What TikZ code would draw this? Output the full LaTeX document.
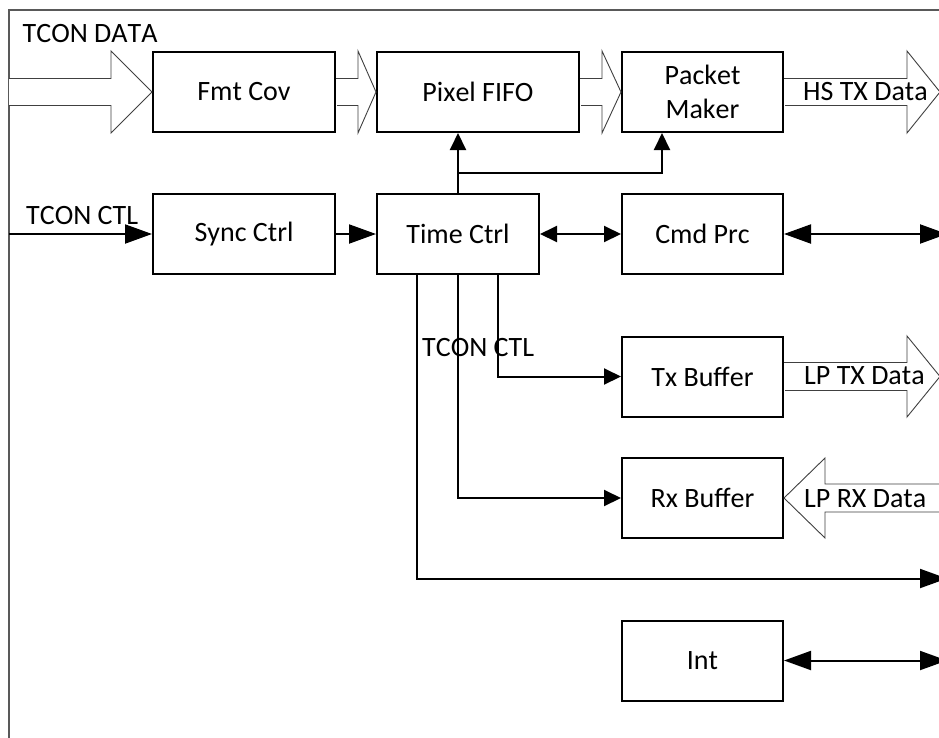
\documentclass[tikz,border=0pt]{standalone}
\usepackage{fontspec}
\setmainfont{Carlito}[Kerning=Off]
\usetikzlibrary{arrows.meta}
\begin{document}
\begin{tikzpicture}[x=1pt,y=-1pt,
  blk/.style={draw, line width=2pt, minimum width=#1, minimum height=80pt, inner sep=0pt, align=center, font=\fontsize{28}{34}\selectfont},
  blk/.default=161pt,
  lbl/.style={inner sep=0pt, anchor=base west, font=\fontsize{28}{34}\selectfont},
  fat/.style={draw=black!75, line width=0.9pt, fill=white, line join=miter},
  frame/.style={draw=black!65, line width=1.5pt},
  con/.style={line width=2pt},
  sm/.tip={Triangle[length=17pt,width=16pt]},
  bg/.tip={Triangle[length=27pt,width=19pt]}
]
\useasboundingbox (0,0) rectangle (939,737);
\clip (0,0) rectangle (939,737);
\fill[white] (0,0) rectangle (939,737);

% frame
\draw[frame] (939,10) -- (9,10) -- (9,740);

% blocks
\node[blk=182pt] (fmt)  at (244,92)    {Fmt Cov};
\node[blk=202pt] (fifo) at (478,92)    {Pixel FIFO};
\node[blk]       (pkt)  at (702.5,92)  {Packet\\Maker};
\node[blk=182pt] (sync) at (244,234)   {Sync Ctrl};
\node[blk=162pt] (time) at (458,234)   {Time Ctrl};
\node[blk]       (cmd)  at (702.5,234) {Cmd Prc};
\node[blk]       (tx)   at (702.5,376.5) {Tx Buffer};
\node[blk]       (rx)   at (702.5,498) {Rx Buffer};
\node[blk]       (int)  at (702.5,660.5) {Int};

% fat data arrows
\draw[fat] (9,78.5) -- (111,78.5) -- (111,51) -- (fmt.west) -- (111,133) -- (111,105.5) -- (9,105.5);
\draw[fat] (fmt.east) ++(0,-13.5) -- (358,78.5) -- (358,51) -- (fifo.west) -- (358,133) -- (358,105.5) -- (337,105.5);
\draw[fat] (fifo.east) ++(0,-13.5) -- (602,78.5) -- (602,51) -- (pkt.west) -- (602,133) -- (602,105.5) -- (581,105.5);
\draw[fat] (pkt.east) ++(0,-13.5) -- (907,78.5) -- (907,51) -- (940,92) -- (907,133) -- (907,105.5) -- (785,105.5);
\draw[fat] (tx.east) ++(0,-14) -- (907,362.5) -- (907,336) -- (940,376.5) -- (907,417) -- (907,390.5) -- (785,390.5);
\draw[fat] (950,484) -- (825,484) -- (825,458) -- (rx.east) -- (825,538) -- (825,512) -- (950,512);

% labels
\node[lbl] (ldata) at (22.5,42)  {TCON DATA};
\node[lbl] (lctl)  at (26,224.5) {TCON CTL};
\node[lbl] (lctl2) at (422,356) {TCON CTL};
\node[lbl] (lhs)   at (803,100) {HS TX Data};
\node[lbl] (llptx) at (804,384) {LP TX Data};
\node[lbl] (llprx) at (804,507) {LP RX Data};

% free ends
\coordinate (inL)  at (9,234);
\coordinate (cmdR) at (947,234);
\coordinate (botR) at (947,578.5);
\coordinate (intR) at (947,660.5);
\coordinate (br)   at (458,173);

% connectors
\draw[con,-{bg}] (inL) -- (sync.west);
\draw[con,-{bg}] (sync.east) -- (time.west);
\draw[con,{sm}-{sm}] (time.east) -- (cmd.west);
\draw[con,{bg}-{bg}] (cmd.east) -- (cmdR);
\draw[con,-{sm}] (time.north) -- (time.north |- fifo.south);
\draw[con,-{sm}] (br) -| ([xshift=-40.5pt]pkt.south);
\draw[con,-{sm}] ([xshift=40pt]time.south) |- (tx.west);
\draw[con,-{sm}] (time.south) |- (rx.west);
\draw[con,-{bg}] ([xshift=-41pt]time.south) |- (botR);
\draw[con,{bg}-{bg}] (int.east) -- (intR);
\end{tikzpicture}
\end{document}
